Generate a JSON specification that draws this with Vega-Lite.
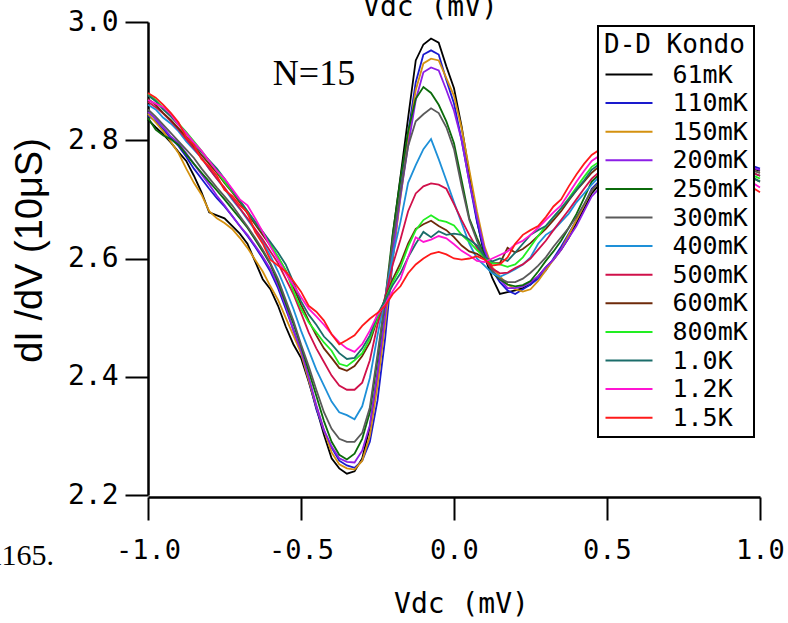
{
 "$schema": "https://vega.github.io/schema/vega-lite/v6.json",
 "width": 612,
 "height": 473,
 "autosize": {"type": "none"},
 "padding": {"left": 148, "top": 22, "right": 28, "bottom": 128},
 "background": "white",
 "config": {
  "view": {"stroke": null},
  "axis": {"grid": false},
  "legend": {"strokeWidth": 2}
 },
 "resolve": {"axis": {"x": "independent", "y": "independent"}},
 "layer": [
  {
   "data": {"values": [
{"x":-1.0,"61mK":2.835,"110mK":2.842,"150mK":2.845,"200mK":2.848,"250mK":2.838,"300mK":2.852,"400mK":2.860,"500mK":2.865,"600mK":2.870,"800mK":2.878,"1.0K":2.876,"1.2K":2.868,"1.5K":2.880},
{"x":-0.975,"61mK":2.822,"110mK":2.832,"150mK":2.830,"200mK":2.836,"250mK":2.818,"300mK":2.840,"400mK":2.852,"500mK":2.856,"600mK":2.860,"800mK":2.868,"1.0K":2.866,"1.2K":2.862,"1.5K":2.872},
{"x":-0.95,"61mK":2.810,"110mK":2.818,"150mK":2.815,"200mK":2.822,"250mK":2.808,"300mK":2.826,"400mK":2.838,"500mK":2.845,"600mK":2.846,"800mK":2.855,"1.0K":2.852,"1.2K":2.856,"1.5K":2.860},
{"x":-0.925,"61mK":2.796,"110mK":2.803,"150mK":2.797,"200mK":2.806,"250mK":2.802,"300mK":2.812,"400mK":2.828,"500mK":2.832,"600mK":2.834,"800mK":2.842,"1.0K":2.840,"1.2K":2.844,"1.5K":2.846},
{"x":-0.9,"61mK":2.780,"110mK":2.790,"150mK":2.778,"200mK":2.795,"250mK":2.792,"300mK":2.798,"400mK":2.815,"500mK":2.818,"600mK":2.820,"800mK":2.828,"1.0K":2.826,"1.2K":2.826,"1.5K":2.830},
{"x":-0.875,"61mK":2.765,"110mK":2.772,"150mK":2.752,"200mK":2.778,"250mK":2.776,"300mK":2.784,"400mK":2.798,"500mK":2.802,"600mK":2.806,"800mK":2.814,"1.0K":2.812,"1.2K":2.812,"1.5K":2.805},
{"x":-0.85,"61mK":2.740,"110mK":2.752,"150mK":2.728,"200mK":2.760,"250mK":2.760,"300mK":2.770,"400mK":2.784,"500mK":2.786,"600mK":2.790,"800mK":2.798,"1.0K":2.795,"1.2K":2.796,"1.5K":2.792},
{"x":-0.825,"61mK":2.712,"110mK":2.735,"150mK":2.708,"200mK":2.742,"250mK":2.745,"300mK":2.752,"400mK":2.770,"500mK":2.770,"600mK":2.775,"800mK":2.782,"1.0K":2.780,"1.2K":2.782,"1.5K":2.768},
{"x":-0.8,"61mK":2.678,"110mK":2.718,"150mK":2.680,"200mK":2.725,"250mK":2.730,"300mK":2.736,"400mK":2.752,"500mK":2.752,"600mK":2.760,"800mK":2.765,"1.0K":2.766,"1.2K":2.765,"1.5K":2.756},
{"x":-0.775,"61mK":2.673,"110mK":2.702,"150mK":2.668,"200mK":2.706,"250mK":2.715,"300mK":2.720,"400mK":2.735,"500mK":2.735,"600mK":2.745,"800mK":2.748,"1.0K":2.752,"1.2K":2.748,"1.5K":2.740},
{"x":-0.75,"61mK":2.668,"110mK":2.688,"150mK":2.660,"200mK":2.690,"250mK":2.700,"300mK":2.705,"400mK":2.718,"500mK":2.720,"600mK":2.728,"800mK":2.730,"1.0K":2.735,"1.2K":2.735,"1.5K":2.716},
{"x":-0.725,"61mK":2.655,"110mK":2.672,"150mK":2.650,"200mK":2.672,"250mK":2.684,"300mK":2.690,"400mK":2.700,"500mK":2.702,"600mK":2.712,"800mK":2.714,"1.0K":2.716,"1.2K":2.718,"1.5K":2.706},
{"x":-0.7,"61mK":2.642,"110mK":2.655,"150mK":2.635,"200mK":2.655,"250mK":2.668,"300mK":2.672,"400mK":2.684,"500mK":2.685,"600mK":2.695,"800mK":2.698,"1.0K":2.698,"1.2K":2.700,"1.5K":2.690},
{"x":-0.675,"61mK":2.625,"110mK":2.638,"150mK":2.618,"200mK":2.640,"250mK":2.652,"300mK":2.654,"400mK":2.666,"500mK":2.668,"600mK":2.676,"800mK":2.680,"1.0K":2.680,"1.2K":2.690,"1.5K":2.678},
{"x":-0.65,"61mK":2.595,"110mK":2.620,"150mK":2.598,"200mK":2.622,"250mK":2.632,"300mK":2.635,"400mK":2.648,"500mK":2.650,"600mK":2.658,"800mK":2.662,"1.0K":2.662,"1.2K":2.668,"1.5K":2.645},
{"x":-0.625,"61mK":2.565,"110mK":2.600,"150mK":2.578,"200mK":2.603,"250mK":2.612,"300mK":2.615,"400mK":2.628,"500mK":2.632,"600mK":2.640,"800mK":2.645,"1.0K":2.645,"1.2K":2.645,"1.5K":2.625},
{"x":-0.6,"61mK":2.548,"110mK":2.578,"150mK":2.553,"200mK":2.582,"250mK":2.590,"300mK":2.592,"400mK":2.605,"500mK":2.612,"600mK":2.622,"800mK":2.625,"1.0K":2.628,"1.2K":2.620,"1.5K":2.598},
{"x":-0.575,"61mK":2.520,"110mK":2.550,"150mK":2.530,"200mK":2.555,"250mK":2.560,"300mK":2.565,"400mK":2.578,"500mK":2.592,"600mK":2.602,"800mK":2.603,"1.0K":2.610,"1.2K":2.598,"1.5K":2.588},
{"x":-0.55,"61mK":2.485,"110mK":2.515,"150mK":2.500,"200mK":2.520,"250mK":2.525,"300mK":2.530,"400mK":2.548,"500mK":2.566,"600mK":2.580,"800mK":2.580,"1.0K":2.590,"1.2K":2.575,"1.5K":2.578},
{"x":-0.525,"61mK":2.455,"110mK":2.480,"150mK":2.470,"200mK":2.478,"250mK":2.490,"300mK":2.495,"400mK":2.515,"500mK":2.540,"600mK":2.552,"800mK":2.545,"1.0K":2.560,"1.2K":2.555,"1.5K":2.562},
{"x":-0.5,"61mK":2.432,"110mK":2.442,"150mK":2.440,"200mK":2.445,"250mK":2.452,"300mK":2.455,"400mK":2.478,"500mK":2.508,"600mK":2.522,"800mK":2.515,"1.0K":2.528,"1.2K":2.535,"1.5K":2.544},
{"x":-0.475,"61mK":2.392,"110mK":2.395,"150mK":2.395,"200mK":2.400,"250mK":2.410,"300mK":2.418,"400mK":2.445,"500mK":2.475,"600mK":2.495,"800mK":2.492,"1.0K":2.505,"1.2K":2.515,"1.5K":2.520},
{"x":-0.45,"61mK":2.348,"110mK":2.345,"150mK":2.350,"200mK":2.352,"250mK":2.368,"300mK":2.378,"400mK":2.412,"500mK":2.448,"600mK":2.470,"800mK":2.475,"1.0K":2.488,"1.2K":2.502,"1.5K":2.510},
{"x":-0.425,"61mK":2.302,"110mK":2.308,"150mK":2.310,"200mK":2.310,"250mK":2.325,"300mK":2.340,"400mK":2.385,"500mK":2.425,"600mK":2.448,"800mK":2.458,"1.0K":2.468,"1.2K":2.488,"1.5K":2.495},
{"x":-0.4,"61mK":2.262,"110mK":2.280,"150mK":2.272,"200mK":2.282,"250mK":2.290,"300mK":2.312,"400mK":2.358,"500mK":2.402,"600mK":2.432,"800mK":2.444,"1.0K":2.455,"1.2K":2.472,"1.5K":2.472},
{"x":-0.375,"61mK":2.245,"110mK":2.258,"150mK":2.252,"200mK":2.262,"250mK":2.268,"300mK":2.295,"400mK":2.340,"500mK":2.385,"600mK":2.415,"800mK":2.422,"1.0K":2.440,"1.2K":2.458,"1.5K":2.455},
{"x":-0.35,"61mK":2.236,"110mK":2.250,"150mK":2.245,"200mK":2.256,"250mK":2.260,"300mK":2.290,"400mK":2.335,"500mK":2.378,"600mK":2.410,"800mK":2.418,"1.0K":2.430,"1.2K":2.448,"1.5K":2.462},
{"x":-0.325,"61mK":2.240,"110mK":2.246,"150mK":2.243,"200mK":2.255,"250mK":2.270,"300mK":2.290,"400mK":2.328,"500mK":2.378,"600mK":2.418,"800mK":2.428,"1.0K":2.432,"1.2K":2.442,"1.5K":2.470},
{"x":-0.3,"61mK":2.262,"110mK":2.258,"150mK":2.258,"200mK":2.275,"250mK":2.295,"300mK":2.305,"400mK":2.350,"500mK":2.390,"600mK":2.435,"800mK":2.440,"1.0K":2.448,"1.2K":2.455,"1.5K":2.486},
{"x":-0.275,"61mK":2.315,"110mK":2.290,"150mK":2.300,"200mK":2.318,"250mK":2.340,"300mK":2.348,"400mK":2.398,"500mK":2.428,"600mK":2.458,"800mK":2.465,"1.0K":2.470,"1.2K":2.478,"1.5K":2.498},
{"x":-0.25,"61mK":2.405,"110mK":2.360,"150mK":2.385,"200mK":2.405,"250mK":2.430,"300mK":2.438,"400mK":2.470,"500mK":2.488,"600mK":2.498,"800mK":2.500,"1.0K":2.505,"1.2K":2.505,"1.5K":2.508},
{"x":-0.225,"61mK":2.505,"110mK":2.465,"150mK":2.490,"200mK":2.505,"250mK":2.530,"300mK":2.530,"400mK":2.535,"500mK":2.535,"600mK":2.532,"800mK":2.530,"1.0K":2.530,"1.2K":2.522,"1.5K":2.520},
{"x":-0.2,"61mK":2.640,"110mK":2.598,"150mK":2.602,"200mK":2.612,"250mK":2.642,"300mK":2.630,"400mK":2.605,"500mK":2.590,"600mK":2.565,"800mK":2.560,"1.0K":2.555,"1.2K":2.545,"1.5K":2.540},
{"x":-0.175,"61mK":2.738,"110mK":2.712,"150mK":2.702,"200mK":2.705,"250mK":2.735,"300mK":2.712,"400mK":2.662,"500mK":2.632,"600mK":2.592,"800mK":2.585,"1.0K":2.575,"1.2K":2.565,"1.5K":2.553},
{"x":-0.15,"61mK":2.838,"110mK":2.812,"150mK":2.800,"200mK":2.790,"250mK":2.815,"300mK":2.790,"400mK":2.728,"500mK":2.680,"600mK":2.625,"800mK":2.620,"1.0K":2.602,"1.2K":2.602,"1.5K":2.575},
{"x":-0.125,"61mK":2.935,"110mK":2.898,"150mK":2.885,"200mK":2.868,"250mK":2.870,"300mK":2.832,"400mK":2.758,"500mK":2.710,"600mK":2.650,"800mK":2.648,"1.0K":2.625,"1.2K":2.636,"1.5K":2.590},
{"x":-0.1,"61mK":2.962,"110mK":2.945,"150mK":2.930,"200mK":2.915,"250mK":2.890,"300mK":2.844,"400mK":2.785,"500mK":2.722,"600mK":2.658,"800mK":2.665,"1.0K":2.645,"1.2K":2.628,"1.5K":2.600},
{"x":-0.075,"61mK":2.972,"110mK":2.952,"150mK":2.938,"200mK":2.923,"250mK":2.880,"300mK":2.854,"400mK":2.802,"500mK":2.727,"600mK":2.664,"800mK":2.673,"1.0K":2.636,"1.2K":2.632,"1.5K":2.608},
{"x":-0.05,"61mK":2.965,"110mK":2.945,"150mK":2.935,"200mK":2.918,"250mK":2.860,"300mK":2.846,"400mK":2.768,"500mK":2.725,"600mK":2.655,"800mK":2.665,"1.0K":2.646,"1.2K":2.638,"1.5K":2.611},
{"x":-0.025,"61mK":2.925,"110mK":2.902,"150mK":2.905,"200mK":2.885,"250mK":2.832,"300mK":2.822,"400mK":2.732,"500mK":2.718,"600mK":2.648,"800mK":2.662,"1.0K":2.640,"1.2K":2.634,"1.5K":2.607},
{"x":0.0,"61mK":2.888,"110mK":2.862,"150mK":2.875,"200mK":2.850,"250mK":2.795,"300mK":2.785,"400mK":2.695,"500mK":2.692,"600mK":2.636,"800mK":2.656,"1.0K":2.642,"1.2K":2.624,"1.5K":2.600},
{"x":0.025,"61mK":2.823,"110mK":2.800,"150mK":2.820,"200mK":2.800,"250mK":2.732,"300mK":2.722,"400mK":2.660,"500mK":2.665,"600mK":2.622,"800mK":2.640,"1.0K":2.640,"1.2K":2.613,"1.5K":2.598},
{"x":0.05,"61mK":2.744,"110mK":2.730,"150mK":2.750,"200mK":2.730,"250mK":2.668,"300mK":2.665,"400mK":2.625,"500mK":2.640,"600mK":2.612,"800mK":2.628,"1.0K":2.632,"1.2K":2.605,"1.5K":2.600},
{"x":0.075,"61mK":2.665,"110mK":2.662,"150mK":2.680,"200mK":2.670,"250mK":2.635,"300mK":2.630,"400mK":2.600,"500mK":2.618,"600mK":2.608,"800mK":2.614,"1.0K":2.622,"1.2K":2.596,"1.5K":2.604},
{"x":0.1,"61mK":2.603,"110mK":2.610,"150mK":2.620,"200mK":2.615,"250mK":2.605,"300mK":2.600,"400mK":2.588,"500mK":2.600,"600mK":2.600,"800mK":2.602,"1.0K":2.603,"1.2K":2.594,"1.5K":2.598},
{"x":0.125,"61mK":2.567,"110mK":2.580,"150mK":2.585,"200mK":2.580,"250mK":2.576,"300mK":2.580,"400mK":2.575,"500mK":2.583,"600mK":2.592,"800mK":2.592,"1.0K":2.595,"1.2K":2.600,"1.5K":2.588},
{"x":0.15,"61mK":2.540,"110mK":2.560,"150mK":2.570,"200mK":2.565,"250mK":2.565,"300mK":2.566,"400mK":2.569,"500mK":2.575,"600mK":2.592,"800mK":2.590,"1.0K":2.600,"1.2K":2.606,"1.5K":2.590},
{"x":0.175,"61mK":2.543,"110mK":2.546,"150mK":2.556,"200mK":2.550,"250mK":2.556,"300mK":2.560,"400mK":2.575,"500mK":2.576,"600mK":2.618,"800mK":2.586,"1.0K":2.596,"1.2K":2.612,"1.5K":2.602},
{"x":0.2,"61mK":2.546,"110mK":2.540,"150mK":2.548,"200mK":2.550,"250mK":2.553,"300mK":2.560,"400mK":2.582,"500mK":2.584,"600mK":2.610,"800mK":2.590,"1.0K":2.610,"1.2K":2.624,"1.5K":2.625},
{"x":0.225,"61mK":2.550,"110mK":2.548,"150mK":2.544,"200mK":2.553,"250mK":2.555,"300mK":2.566,"400mK":2.590,"500mK":2.590,"600mK":2.616,"800mK":2.602,"1.0K":2.625,"1.2K":2.630,"1.5K":2.640},
{"x":0.25,"61mK":2.556,"110mK":2.556,"150mK":2.548,"200mK":2.560,"250mK":2.562,"300mK":2.576,"400mK":2.602,"500mK":2.600,"600mK":2.626,"800mK":2.620,"1.0K":2.640,"1.2K":2.640,"1.5K":2.648},
{"x":0.275,"61mK":2.570,"110mK":2.566,"150mK":2.562,"200mK":2.570,"250mK":2.578,"300mK":2.588,"400mK":2.625,"500mK":2.615,"600mK":2.638,"800mK":2.638,"1.0K":2.648,"1.2K":2.652,"1.5K":2.655},
{"x":0.3,"61mK":2.585,"110mK":2.580,"150mK":2.580,"200mK":2.585,"250mK":2.596,"300mK":2.602,"400mK":2.640,"500mK":2.630,"600mK":2.650,"800mK":2.655,"1.0K":2.655,"1.2K":2.665,"1.5K":2.670},
{"x":0.325,"61mK":2.598,"110mK":2.600,"150mK":2.598,"200mK":2.598,"250mK":2.612,"300mK":2.620,"400mK":2.648,"500mK":2.648,"600mK":2.665,"800mK":2.670,"1.0K":2.670,"1.2K":2.678,"1.5K":2.688},
{"x":0.35,"61mK":2.615,"110mK":2.620,"150mK":2.615,"200mK":2.615,"250mK":2.630,"300mK":2.636,"400mK":2.662,"500mK":2.665,"600mK":2.680,"800mK":2.685,"1.0K":2.685,"1.2K":2.690,"1.5K":2.700},
{"x":0.375,"61mK":2.635,"110mK":2.642,"150mK":2.640,"200mK":2.635,"250mK":2.652,"300mK":2.652,"400mK":2.676,"500mK":2.682,"600mK":2.698,"800mK":2.702,"1.0K":2.700,"1.2K":2.710,"1.5K":2.722},
{"x":0.4,"61mK":2.660,"110mK":2.665,"150mK":2.665,"200mK":2.655,"250mK":2.675,"300mK":2.670,"400mK":2.695,"500mK":2.700,"600mK":2.715,"800mK":2.720,"1.0K":2.716,"1.2K":2.730,"1.5K":2.742},
{"x":0.425,"61mK":2.685,"110mK":2.690,"150mK":2.690,"200mK":2.680,"250mK":2.702,"300mK":2.692,"400mK":2.710,"500mK":2.718,"600mK":2.730,"800mK":2.738,"1.0K":2.732,"1.2K":2.748,"1.5K":2.760},
{"x":0.45,"61mK":2.710,"110mK":2.718,"150mK":2.715,"200mK":2.705,"250mK":2.730,"300mK":2.715,"400mK":2.725,"500mK":2.735,"600mK":2.745,"800mK":2.755,"1.0K":2.750,"1.2K":2.765,"1.5K":2.775},
{"x":0.55,"61mK":2.77,"110mK":2.77,"150mK":2.77,"200mK":2.76,"250mK":2.78,"300mK":2.77,"400mK":2.78,"500mK":2.78,"600mK":2.79,"800mK":2.79,"1.0K":2.79,"1.2K":2.80,"1.5K":2.81},
{"x":0.7,"61mK":2.79,"110mK":2.79,"150mK":2.79,"200mK":2.79,"250mK":2.79,"300mK":2.79,"400mK":2.79,"500mK":2.79,"600mK":2.80,"800mK":2.80,"1.0K":2.80,"1.2K":2.80,"1.5K":2.80},
{"x":0.85,"61mK":2.77,"110mK":2.78,"150mK":2.77,"200mK":2.77,"250mK":2.77,"300mK":2.77,"400mK":2.77,"500mK":2.77,"600mK":2.77,"800mK":2.77,"1.0K":2.77,"1.2K":2.77,"1.5K":2.76},
{"x":1.0,"61mK":2.748,"110mK":2.752,"150mK":2.745,"200mK":2.750,"250mK":2.740,"300mK":2.745,"400mK":2.740,"500mK":2.740,"600mK":2.730,"800mK":2.735,"1.0K":2.730,"1.2K":2.720,"1.5K":2.712}
   ]},
   "transform": [
    {"fold": ["61mK","110mK","150mK","200mK","250mK","300mK","400mK","500mK","600mK","800mK","1\\.0K","1\\.2K","1\\.5K"], "as": ["T", "v"]}
   ],
   "mark": {"type": "line", "strokeWidth": 1.8, "clip": false},
   "encoding": {
    "x": {
     "field": "x", "type": "quantitative",
     "scale": {"domain": [-1, 1], "nice": false},
     "axis": {
      "values": [-1, -0.5, 0, 0.5, 1],
      "labelExpr": "datum.value < 0 ? '-' + format(-datum.value, '.1f') : format(datum.value, '.1f')",
      "title": "Vdc (mV)",
      "titleFont": "DejaVu Sans Mono", "titleFontSize": 28, "titleFontWeight": "normal", "titleColor": "black",
      "titleX": 313, "titleY": 107, "titleBaseline": "middle", "titleAlign": "center",
      "labelFont": "DejaVu Sans Mono", "labelFontSize": 27, "labelColor": "black", "labelPadding": 17,
      "labelFlush": false, "labelOverlap": false,
      "tickSize": 23, "tickWidth": 2, "tickColor": "black",
      "domainColor": "black", "domainWidth": 2.5, "offset": 2, "grid": false
     }
    },
    "y": {
     "field": "v", "type": "quantitative",
     "scale": {"domain": [2.2, 3.0], "nice": false, "zero": false},
     "axis": {
      "values": [2.2, 2.4, 2.6, 2.8, 3.0],
      "format": ".1f",
      "title": "dI /dV (10μS)",
      "titleFont": "Liberation Sans", "titleFontSize": 38, "titleFontWeight": "normal", "titleColor": "black",
      "titleX": -118, "titleY": 228, "titleAngle": 270, "titleAlign": "center", "titleBaseline": "middle",
      "labelFont": "DejaVu Sans Mono", "labelFontSize": 28, "labelColor": "black", "labelPadding": 7,
      "labelFlush": false, "labelOverlap": false,
      "tickSize": 23, "tickWidth": 2, "tickColor": "black",
      "domainColor": "black", "domainWidth": 2.5, "grid": false
     }
    },
    "color": {
     "field": "T", "type": "nominal",
     "scale": {
      "domain": ["61mK","110mK","150mK","200mK","250mK","300mK","400mK","500mK","600mK","800mK","1.0K","1.2K","1.5K"],
      "range": ["#000000","#1a1acd","#d4910f","#8c1ee6","#0b6b0b","#5a5a5a","#1e90d8","#d0104a","#6e2a0a","#22ee22","#1b6d6a","#ff14d2","#ff1a1a"]
     },
     "legend": {
      "orient": "none", "legendX": 450, "legendY": 4,
      "title": "D-D Kondo",
      "titleFont": "DejaVu Sans Mono", "titleFontSize": 26, "titleFontWeight": "normal", "titleColor": "black", "titlePadding": 4,
      "labelFont": "DejaVu Sans Mono", "labelFontSize": 25, "labelColor": "black", "labelOffset": 31,
      "symbolType": "M-2.35,0H2.35", "symbolSize": 400, "symbolStrokeWidth": 2, "symbolOffset": 12.5,
      "rowPadding": 2.6, "padding": 6,
      "fillColor": "white", "strokeColor": "black",
      "zindex": 1
     }
    }
   }
  },
  {
   "data": {"values": [{}]},
   "mark": {"type": "text", "text": "N=15", "font": "Liberation Serif", "fontSize": 36, "align": "center", "baseline": "alphabetic", "color": "black"},
   "encoding": {
    "x": {
     "datum": -0.4575, "type": "quantitative",
     "scale": {"domain": [-1, 1], "nice": false},
     "axis": {
      "orient": "top", "domain": false, "ticks": false, "labels": false, "grid": false,
      "title": "Vdc (mV)",
      "titleFont": "DejaVu Sans Mono", "titleFontSize": 28, "titleFontWeight": "normal", "titleColor": "black",
      "titleX": 282, "titleY": -7, "titleBaseline": "alphabetic", "titleAlign": "center"
     }
    },
    "y": {"datum": 2.8934, "type": "quantitative", "scale": {"domain": [2.2, 3.0], "nice": false, "zero": false}, "axis": null}
   }
  },
  {
   "data": {"values": [{}]},
   "mark": {"type": "text", "text": "1165.", "font": "Liberation Serif", "fontSize": 30, "align": "right", "baseline": "alphabetic", "color": "black"},
   "encoding": {
    "x": {"datum": -1.307, "type": "quantitative", "scale": {"domain": [-1, 1], "nice": false}, "axis": null},
    "y": {"datum": 2.0816, "type": "quantitative", "scale": {"domain": [2.2, 3.0], "nice": false, "zero": false}, "axis": null}
   }
  }
 ]
}
